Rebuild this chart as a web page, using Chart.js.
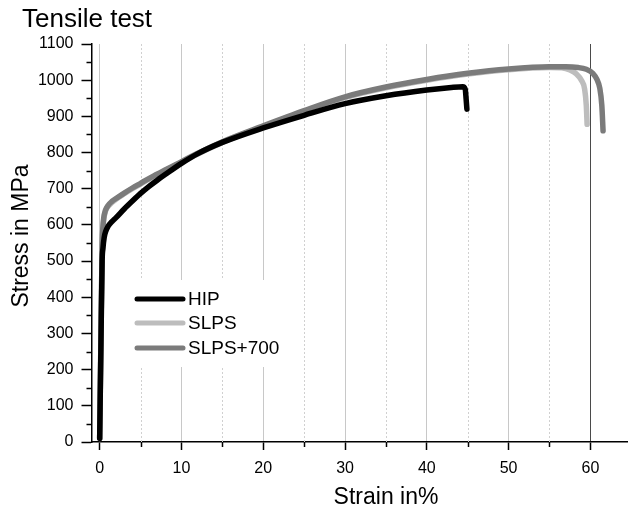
<!DOCTYPE html>
<html>
<head>
<meta charset="utf-8">
<title>Tensile test</title>
<script src="https://cdn.jsdelivr.net/npm/chart.js@4.4.0/dist/chart.umd.min.js"></script>
<style>
  html, body { margin: 0; padding: 0; background: #fff; }
  canvas { display: block; }
</style>
</head>
<body>
<canvas id="tensileChart" width="628" height="510"></canvas>
<script>
// series (strain in %, stress in MPa)
const seriesLabels = ['HIP', 'SLPS', 'SLPS+700'];
const seriesColors = ['#000000', '#bdbdbd', '#7b7b7b'];

const hipStrain = [0, 0.15, 0.3, 0.4, 0.55, 0.75, 1, 1.5, 2, 3, 4, 5, 6, 7, 8, 10, 12, 15, 20, 25, 30, 35, 40, 43, 44.4, 44.7, 44.8, 44.9];
const hipStress = [10, 260, 500, 535, 565, 583, 595, 609, 620, 644, 666, 687, 706, 723, 739, 770, 797, 828, 868, 903, 935, 957, 973, 980, 982, 975, 950, 920];

const slpsStrain = [0, 0.15, 0.3, 0.4, 0.5, 0.7, 1, 1.5, 2, 3, 4, 5, 6, 7, 8, 10, 12, 15, 20, 25, 30, 35, 40, 45, 50, 55, 56.5, 57.5, 58.3, 58.9, 59.3, 59.5, 59.6];
const slpsStress = [10, 280, 540, 590, 615, 637, 650, 662, 671, 686, 700, 713, 726, 738, 750, 773, 796, 828, 872, 914, 952, 979, 1000, 1017, 1029, 1035, 1034, 1028, 1017, 1000, 975, 930, 878];

const slps700Strain = [0, 0.15, 0.3, 0.4, 0.5, 0.7, 1, 1.5, 2, 3, 4, 5, 6, 7, 8, 10, 12, 15, 20, 25, 30, 35, 40, 45, 50, 55, 57, 58.5, 59.5, 60.3, 60.8, 61.15, 61.4, 61.55];
const slps700Stress = [10, 280, 545, 595, 620, 640, 653, 665, 673, 688, 702, 715, 728, 740, 752, 775, 798, 830, 874, 916, 954, 981, 1002, 1019, 1031, 1037, 1037, 1035, 1030, 1019, 1002, 978, 930, 860];

// axis ticks
const xTickLabels = [0, 10, 20, 30, 40, 50, 60];
const xMinorTicks = [5, 15, 25, 35, 45, 55];
const yTickLabels = [0, 100, 200, 300, 400, 500, 600, 700, 800, 900, 1000, 1100];
const yMinorTicks = [50, 150, 250, 350, 450, 550, 650, 750, 850, 950, 1050];

const FONT = '"Liberation Sans", Arial, Helvetica, sans-serif';
Chart.defaults.font.family = FONT;
Chart.defaults.color = '#000';

function toPoints(xs, ys) {
  return xs.map((v, i) => ({ x: v, y: ys[i] }));
}

const allStrain = [hipStrain, slpsStrain, slps700Strain];
const allStress = [hipStress, slpsStress, slps700Stress];
const drawOrder = [0, 2, 1]; // black on top, dark grey above light grey

// minor ticks, dotted grid, legend, titles
const extrasPlugin = {
  id: 'extras',
  beforeDatasetsDraw(chart) {
    const { ctx, chartArea: a, scales: { x } } = chart;
    ctx.save();
    ctx.strokeStyle = '#d0d0d0';
    ctx.lineWidth = 1;
    ctx.setLineDash([2, 2]);
    xMinorTicks.forEach(v => {
      const px = Math.round(x.getPixelForValue(v)) + 0.5;
      ctx.beginPath();
      ctx.moveTo(px, a.top);
      ctx.lineTo(px, a.bottom);
      ctx.stroke();
    });
    ctx.setLineDash([]);
    // legend box hides the grid behind it
    ctx.fillStyle = '#fff';
    ctx.fillRect(112, 280, 184, 87);
    ctx.restore();
  },
  afterDraw(chart) {
    const { ctx, chartArea: a, scales: { x, y } } = chart;
    ctx.save();
    ctx.strokeStyle = '#000';
    ctx.lineWidth = 1.5;
    // minor ticks
    yMinorTicks.forEach(v => {
      const py = Math.round(y.getPixelForValue(v)) + 0.5;
      ctx.beginPath();
      ctx.moveTo(a.left - 5, py);
      ctx.lineTo(a.left, py);
      ctx.stroke();
    });
    xMinorTicks.forEach(v => {
      const px = Math.round(x.getPixelForValue(v)) + 0.5;
      ctx.beginPath();
      ctx.moveTo(px, a.bottom);
      ctx.lineTo(px, a.bottom + 5);
      ctx.stroke();
    });

    // legend
    const rows = [299, 323, 348];
    chart.data.datasets.forEach((ds, i) => {
      ctx.strokeStyle = ds.borderColor;
      ctx.lineWidth = 5;
      ctx.lineCap = 'round';
      ctx.beginPath();
      ctx.moveTo(137, rows[i]);
      ctx.lineTo(183, rows[i]);
      ctx.stroke();
      ctx.fillStyle = '#000';
      ctx.font = '19px ' + FONT;
      ctx.textAlign = 'left';
      ctx.textBaseline = 'middle';
      ctx.fillText(ds.label, 188, rows[i] + 1);
    });

    // titles
    ctx.fillStyle = '#000';
    ctx.textBaseline = 'alphabetic';
    ctx.textAlign = 'left';
    ctx.font = '26px ' + FONT;
    ctx.fillText('Tensile test', 22, 27);

    ctx.font = '23px ' + FONT;
    ctx.textAlign = 'center';
    ctx.fillText('Strain in%', 386, 504);

    ctx.translate(28, 236);
    ctx.rotate(-Math.PI / 2);
    ctx.fillText('Stress in MPa', 0, 0);
    ctx.restore();
  }
};

const ctx = document.getElementById('tensileChart');
const tensileChart = new Chart(ctx.getContext('2d'), {
  type: 'scatter',
  data: {
    datasets: seriesLabels.map((label, i) => ({
      label: label,
      data: toPoints(allStrain[i], allStress[i]),
      showLine: true,
      borderColor: seriesColors[i],
      backgroundColor: seriesColors[i],
      borderWidth: 5.5,
      borderCapStyle: 'round',
      borderJoinStyle: 'round',
      pointRadius: 0,
      cubicInterpolationMode: 'monotone',
      order: drawOrder[i]
    }))
  },
  options: {
    responsive: false,
    animation: false,
    layout: { padding: { top: 44, right: 0, bottom: 0, left: 0 } },
    plugins: {
      legend: { display: false },
      title: { display: false },
      tooltip: { enabled: false }
    },
    scales: {
      x: {
        type: 'linear',
        min: -1,
        max: 64.6,
        afterFit: scale => { scale.height = 68; },
        border: { color: '#000', width: 1.5 },
        grid: {
          color: c => {
            const v = c.tick ? c.tick.value : null;
            if (v === 60) return '#4a4a4a';
            return xTickLabels.includes(v) ? '#c8c8c8' : 'rgba(0,0,0,0)';
          },
          lineWidth: 1,
          tickLength: 8,
          tickWidth: 1.5,
          tickColor: c => (c.tick && xTickLabels.includes(c.tick.value) ? '#000' : 'rgba(0,0,0,0)')
        },
        ticks: {
          stepSize: 5,
          includeBounds: false,
          padding: 9,
          maxRotation: 0,
          autoSkip: false,
          font: { size: 16 },
          color: '#000',
          callback: value => (xTickLabels.includes(value) ? String(value) : '')
        }
      },
      y: {
        type: 'linear',
        min: 0,
        max: 1100,
        afterFit: scale => { scale.width = 91.5; },
        border: { color: '#000', width: 1.5 },
        grid: {
          drawOnChartArea: false,
          tickLength: 10,
          tickWidth: 1.5,
          tickColor: c => (c.tick && yTickLabels.includes(c.tick.value) ? '#000' : 'rgba(0,0,0,0)')
        },
        ticks: {
          stepSize: 50,
          padding: 8,
          autoSkip: false,
          font: { size: 16 },
          color: '#000',
          callback: value => (yTickLabels.includes(value) ? String(value) : '')
        }
      }
    }
  },
  plugins: [extrasPlugin]
});
</script>
</body>
</html>
